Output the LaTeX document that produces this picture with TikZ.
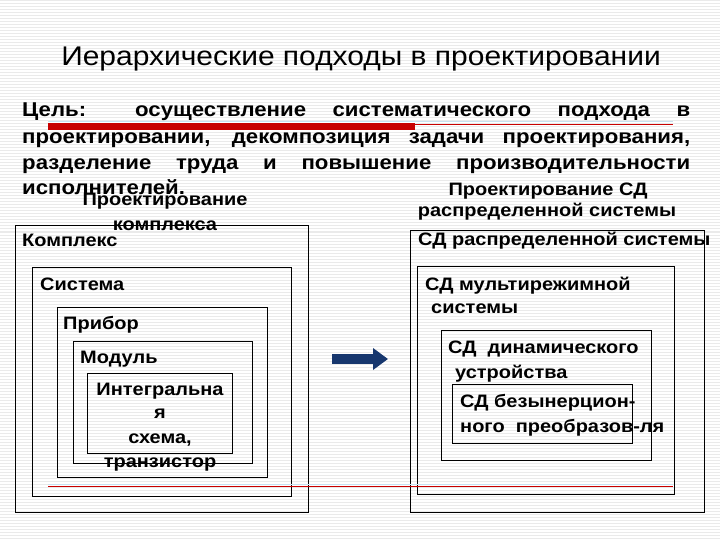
\documentclass[tikz,border=0pt]{standalone}
\usepackage{fontspec}
\setmainfont{Liberation Sans}[FakeStretch=1.11]
\usetikzlibrary{arrows.meta}
\definecolor{navyarrow}{RGB}{23,55,110}
\definecolor{stripe}{RGB}{234,234,234}
\definecolor{redbar}{RGB}{200,0,0}
\definecolor{lightblue}{RGB}{200,225,240}
\tikzset{
  box/.style={draw=black, line width=0.9pt, inner sep=0pt, anchor=north west},
  lbl/.style={inner sep=0pt, anchor=base west, font=\bfseries\fontsize{18}{20}\selectfont},
  clbl/.style={inner sep=0pt, anchor=base, font=\bfseries\fontsize{18}{20}\selectfont},
  bodytext/.style={inner sep=0pt, anchor=base west, font=\bfseries\fontsize{20}{22}\selectfont},
  bigarrow/.style={draw=navyarrow, line width=10pt, -{Triangle[length=15pt,width=21pt]}},
  stripeline/.style={draw=stripe, line width=1pt}
}
\begin{document}
\begin{tikzpicture}[x=1pt,y=-1pt]
\useasboundingbox (0,0) rectangle (720,540);
\fill[white] (0,0) rectangle (720,540);
\foreach \yy in {1,4,...,540} {\draw[stripeline] (0,\yy) -- (720,\yy);}

% title
\node[inner sep=0pt, anchor=base, font=\fontsize{27}{30}\selectfont] (title) at (361,66) {Иерархические подходы в проектировании};

% decorative lines
\draw[lightblue, line width=0.8pt] (48,121.5) -- (673,121.5);
\draw[redbar, line width=0.9pt] (415,124) -- (673,124);
\draw[redbar, line width=7pt] (48,126.5) -- (415,126.5);

% body text
\node[bodytext] (l1) at (22,117) {\makebox[668pt][s]{Цель: осуществление систематического подхода в}};
\node[bodytext] (l2) at (22,143.5) {\makebox[668pt][s]{проектировании, декомпозиция задачи проектирования,}};
\node[bodytext] (l3) at (22,170) {\makebox[668pt][s]{разделение труда и повышение производительности}};
\node[bodytext] (l4) at (22,195) {исполнителей.};

% headings
\node[clbl] (hl1) at (165,206) {Проектирование};
\node[clbl] (hl2) at (165,230) {комплекса};
\node[clbl] (hr1) at (548,196) {Проектирование СД};
\node[clbl] (hr2) at (547,217) {распределенной системы};

% left boxes
\node[box, minimum width=293pt, minimum height=287pt] (b1) at (15,225) {};
\node[box, minimum width=259pt, minimum height=229pt] (b2) at (32,267) {};
\node[box, minimum width=210pt, minimum height=170pt] (b3) at (57,307) {};
\node[box, minimum width=179pt, minimum height=122pt] (b4) at (73,341) {};
\node[box, minimum width=145pt, minimum height=80pt] (b5) at (87,373) {};

\node[lbl] (t1) at (22,246.5) {Комплекс};
\node[lbl] (t2) at (40,290) {Система};
\node[lbl] (t3) at (63,329) {Прибор};
\node[lbl] (t4) at (80,363) {Модуль};
\node[clbl] (t5a) at (160,395.5) {Интегральна};
\node[clbl] (t5b) at (160,418) {я};
\node[clbl] (t5c) at (160,443) {схема,};
\node[clbl] (t5d) at (160,467) {транзистор};

% right boxes
\node[box, minimum width=294pt, minimum height=282pt] (r1) at (410,230) {};
\node[box, minimum width=257pt, minimum height=228pt] (r2) at (417,266) {};
\node[box, minimum width=210pt, minimum height=130pt] (r3) at (441,330) {};
\node[box, minimum width=180pt, minimum height=59pt] (r4) at (452,384) {};

\node[lbl] (s1) at (418,245.5) {СД распределенной системы};
\node[lbl] (s2a) at (425,290) {СД мультирежимной};
\node[lbl] (s2b) at (431,313) {системы};
\node[lbl] (s3a) at (448,353) {СД\ \ динамического};
\node[lbl] (s3b) at (455,378) {устройства};
\node[lbl] (s4a) at (460,407) {СД безынерцион-};
\node[lbl] (s4b) at (460,432) {ного\ \ преобразов-ля};

% bottom decorative line
\draw[lightblue, line width=0.8pt] (48,484) -- (673,484);
\draw[redbar, line width=0.9pt] (48,486) -- (673,486);

% arrow
\coordinate (as) at (332,359);
\coordinate (ae) at (388,359);
\draw[bigarrow] (as) -- (ae);
\end{tikzpicture}
\end{document}
